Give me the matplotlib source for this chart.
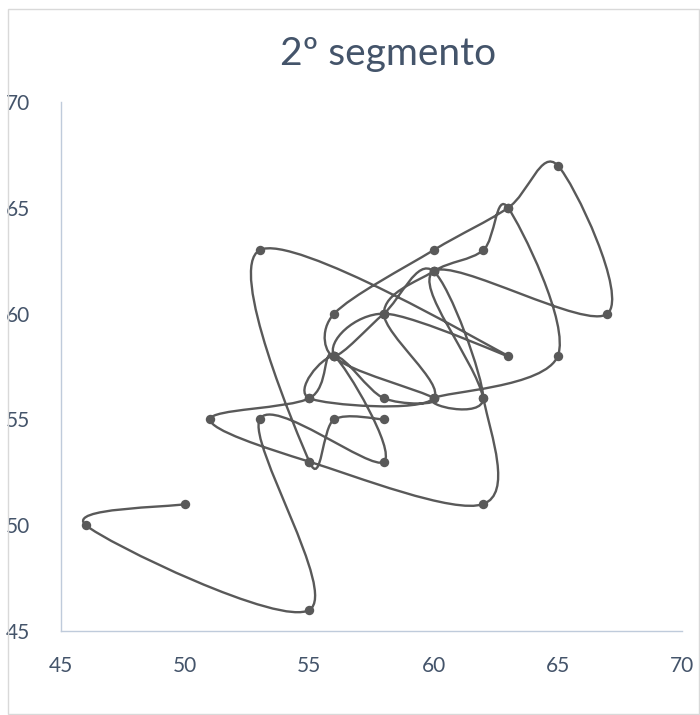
import numpy as np
import matplotlib.pyplot as plt
from matplotlib.path import Path
from matplotlib.patches import PathPatch, Rectangle

title = "2º segmento"

# points in the order they were recorded
xs = [50, 46, 55, 53, 58, 56,
      55, 51, 55, 62, 62, 60,
      67, 65, 63, 60, 56, 56,
      58, 60, 62, 60,
      65, 63, 62, 60,
      58, 60, 55, 56, 58, 60, 56, 58,
      63, 53, 55, 56, 58]
ys = [51, 50, 46, 55, 53, 58,
      56, 55, 53, 51, 56, 62,
      60, 67, 65, 63, 60, 58,
      60, 62, 56, 56,
      58, 65, 63, 62,
      60, 56, 56, 58, 56, 56, 58, 60,
      58, 63, 53, 55, 55]

xticks = [45, 50, 55, 60, 65, 70]
yticks = [45, 50, 55, 60, 65, 70]

text_color = '#44546A'
line_color = '#595959'


def smooth_path(x, y):
    # Bezier segments with 1/6 tangents, like a spreadsheet smoothed line
    p = np.column_stack([x, y]).astype(float)
    n = len(p)
    verts = [p[0]]
    codes = [Path.MOVETO]
    for i in range(n - 1):
        p0 = p[i - 1] if i > 0 else p[i]
        p3 = p[i + 2] if i + 2 < n else p[i + 1]
        c1 = p[i] + (p[i + 1] - p0) / 6.0
        c2 = p[i + 1] - (p3 - p[i]) / 6.0
        verts += [c1, c2, p[i + 1]]
        codes += [Path.CURVE4] * 3
    return Path(verts, codes)


plt.rcParams['font.family'] = ['Lato', 'DejaVu Sans']

fig = plt.figure(figsize=(7.0, 7.15), dpi=100)
ax = fig.add_axes([0.0871, 0.1175, 0.8872, 0.7398])

ax.add_patch(PathPatch(smooth_path(xs, ys), facecolor='none',
                       edgecolor=line_color, lw=1.7, zorder=2))
ax.scatter(xs, ys, s=46, color=line_color, zorder=3, linewidths=0)

ax.set_xlim(45, 70)
ax.set_ylim(45, 70)
ax.set_xticks(xticks)
ax.set_yticks(yticks)
ax.tick_params(length=0, labelsize=15, colors=text_color)
ax.tick_params(axis='y', pad=22)
ax.tick_params(axis='x', pad=18)
for side in ['top', 'right']:
    ax.spines[side].set_visible(False)
for side in ['left', 'bottom']:
    ax.spines[side].set_color('#BFCBDB')
    ax.spines[side].set_linewidth(1.0)

fig.text(0.555, 0.925, title, ha='center', va='center', fontsize=28,
         color=text_color)

fig.patches.append(Rectangle((0.012, 0.001), 0.986, 0.987, transform=fig.transFigure,
                             fill=False, edgecolor='#D9D9D9', lw=1.0))

fig.savefig('out.png', dpi=100, facecolor='white')
